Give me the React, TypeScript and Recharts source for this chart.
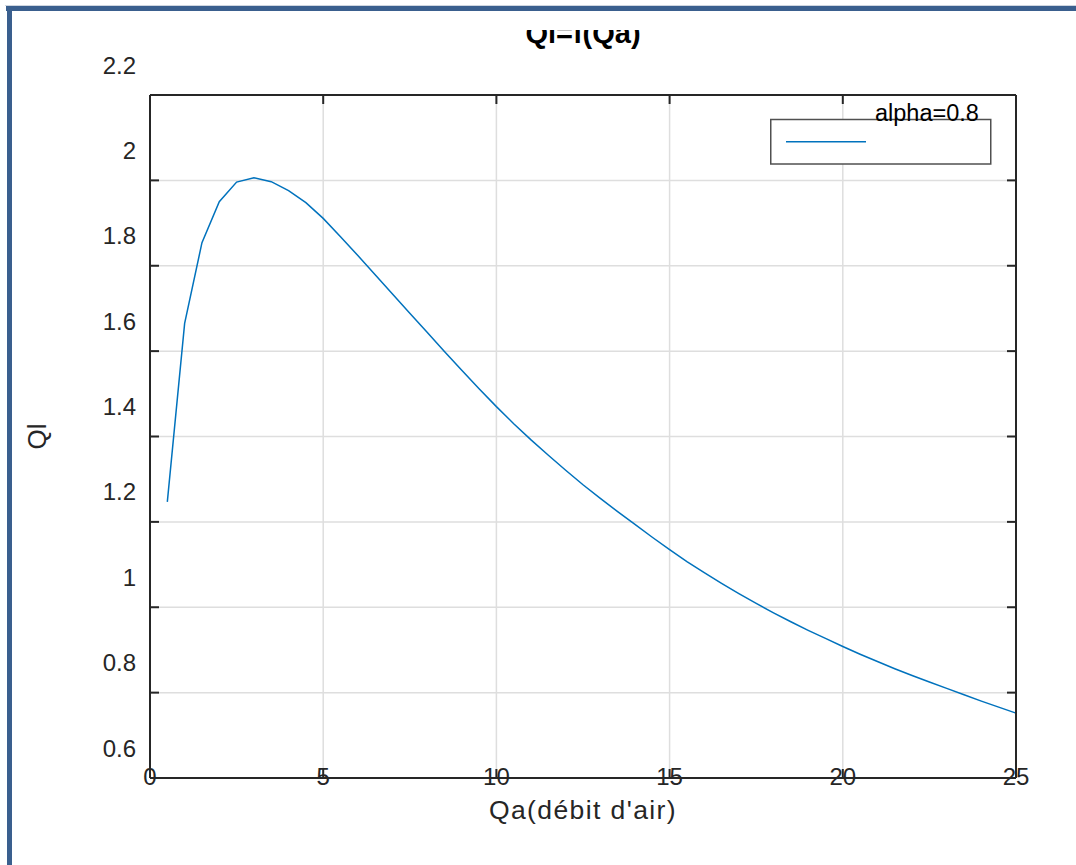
import React from "react";
import {
  LineChart,
  Line,
  XAxis,
  YAxis,
  CartesianGrid,
  Legend,
} from "recharts";

// Qa = 0.5 : 0.5 : 25
const qa = [
  0.5, 1, 1.5, 2, 2.5, 3, 3.5, 4, 4.5, 5, 5.5, 6, 6.5, 7, 7.5, 8, 8.5, 9, 9.5,
  10, 10.5, 11, 11.5, 12, 12.5, 13, 13.5, 14, 14.5, 15, 15.5, 16, 16.5, 17,
  17.5, 18, 18.5, 19, 19.5, 20, 20.5, 21, 21.5, 22, 22.5, 23, 23.5, 24, 24.5,
  25,
];
const ql = [
  1.247, 1.665, 1.854, 1.95, 1.996, 2.006, 1.997, 1.976, 1.948, 1.911, 1.868,
  1.824, 1.779, 1.734, 1.689, 1.644, 1.599, 1.555, 1.512, 1.47, 1.43, 1.392,
  1.356, 1.321, 1.287, 1.255, 1.224, 1.194, 1.164, 1.135, 1.107, 1.081, 1.056,
  1.032, 1.009, 0.987, 0.966, 0.946, 0.927, 0.908, 0.89, 0.873, 0.856, 0.84,
  0.825, 0.81, 0.795, 0.78, 0.766, 0.752,
];
const xTicks = [0, 5, 10, 15, 20, 25];
const yTicks = [0.6, 0.8, 1, 1.2, 1.4, 1.6, 1.8, 2, 2.2];
const seriesName = "alpha=0.8";

const W = 1076;
const H = 865;
const LEFT = 150;
const TOP = 95;
const RIGHT = 60;
const BOTTOM = 87;
const AXIS = "#262626";
const FONT = "'Liberation Sans', Arial, Helvetica, sans-serif";

const data = qa.map((x, i) => ({ qa: x, ql: ql[i] }));

// MATLAB-style inward ticks
const axisStyle = {
  tickSize: -9,
  tickMargin: 0,
  axisLine: { stroke: AXIS, strokeWidth: 2 },
  tickLine: { stroke: AXIS, strokeWidth: 2 },
};

function YTick(props: any) {
  const c = props.payload.coordinate;
  return (
    <text x={LEFT - 14} y={c - 21.5} textAnchor="end" fontSize={24} fill={AXIS} fontFamily={FONT}>
      {String(props.payload.value)}
    </text>
  );
}

function XTick(props: any) {
  const c = props.payload.coordinate;
  return (
    <text x={c} y={H - BOTTOM + 7} textAnchor="middle" fontSize={24} fill={AXIS} fontFamily={FONT}>
      {String(props.payload.value)}
    </text>
  );
}

// box axes (top/right): tick marks only, no labels
function NoLabel() {
  return <g />;
}

function LegendBox(props: any) {
  const item = (props.payload || []).find((p: any) => p.value === seriesName);
  return (
    <svg width={240} height={70} style={{ display: "block", overflow: "visible" }}>
      <rect x={0.75} y={19.5} width={220} height={44.5} fill="#fff" stroke="#505050" strokeWidth={1.5} />
      <line x1={16} x2={96} y1={41.7} y2={41.7} stroke={item ? item.color : "#0072BD"} strokeWidth={1.5} />
      <text x={105} y={21} fontSize={23.5} fill="#000" fontFamily={FONT}>
        {seriesName}
      </text>
    </svg>
  );
}

export default function App() {
  return (
    <div
      style={{
        position: "fixed",
        left: 0,
        top: 0,
        width: W,
        height: H,
        background: "#fff",
        overflow: "hidden",
        fontFamily: FONT,
      }}
    >
      {/* document frame */}
      <div style={{ position: "absolute", left: 5, top: 5, right: 0, height: 1, background: "#cfd6e0" }} />
      <div style={{ position: "absolute", left: 6, top: 6, right: 0, height: 5, background: "#3a5f8e" }} />
      <div style={{ position: "absolute", left: 7, top: 6, width: 5, bottom: 0, background: "#3a5f8e" }} />

      <LineChart
        width={W}
        height={H}
        data={data}
        margin={{ top: TOP - 1, right: RIGHT - 1, bottom: BOTTOM - 1, left: LEFT - 1 }}
        style={{ position: "absolute", left: 0, top: 0 }}
      >
        <CartesianGrid stroke="#dedede" strokeWidth={1.5} />
        <XAxis
          dataKey="qa"
          type="number"
          domain={[0, 25]}
          ticks={xTicks}
          height={1}
          tick={<XTick />}
          {...axisStyle}
          label={{
            content: (p: any) => (
              <text
                x={p.viewBox.x + p.viewBox.width / 2}
                y={H - BOTTOM + 41}
                textAnchor="middle"
                fontSize={26.5}
                letterSpacing={1.4}
                fill={AXIS}
                fontFamily={FONT}
              >
                Qa(débit d'air)
              </text>
            ),
          }}
        />
        <XAxis
          xAxisId="top"
          orientation="top"
          dataKey="qa"
          type="number"
          domain={[0, 25]}
          allowDataOverflow
          ticks={xTicks}
          height={1}
          tick={<NoLabel />}
          {...axisStyle}
        />
        <YAxis
          type="number"
          domain={[0.6, 2.2]}
          ticks={yTicks}
          width={1}
          tick={<YTick />}
          {...axisStyle}
          label={{
            content: (p: any) => {
              const cy = p.viewBox.y + p.viewBox.height / 2;
              return (
                <text
                  x={46}
                  y={cy}
                  transform={`rotate(-90 46 ${cy})`}
                  textAnchor="middle"
                  fontSize={26}
                  fill={AXIS}
                  fontFamily={FONT}
                >
                  Ql
                </text>
              );
            },
          }}
        />
        <YAxis
          yAxisId="right"
          orientation="right"
          type="number"
          domain={[0.6, 2.2]}
          allowDataOverflow
          ticks={yTicks}
          width={1}
          tick={<NoLabel />}
          {...axisStyle}
        />
        <Legend
          layout="horizontal"
          align="center"
          verticalAlign="middle"
          content={<LegendBox />}
          wrapperStyle={{ position: "absolute", left: 770, top: 100, width: 240, height: 70 }}
        />
        <Line
          type="linear"
          dataKey="ql"
          name={seriesName}
          stroke="#0072BD"
          strokeWidth={1.5}
          dot={false}
          activeDot={false}
          isAnimationActive={false}
        />
        {/* same series bound to the box axes, invisible, so their scales match */}
        <Line
          xAxisId="top"
          yAxisId="right"
          type="linear"
          dataKey="ql"
          name="box"
          stroke="none"
          legendType="none"
          dot={false}
          activeDot={false}
          isAnimationActive={false}
        />
      </LineChart>

      {/* title, clipped at the top like the reference */}
      <svg
        width={W}
        height={60}
        style={{ position: "absolute", left: 0, top: 0, pointerEvents: "none" }}
      >
        <defs>
          <clipPath id="titleClip">
            <rect x={0} y={30} width={W} height={30} />
          </clipPath>
        </defs>
        <text
          x={(LEFT + W - RIGHT) / 2}
          y={43}
          textAnchor="middle"
          fontSize={29}
          fontWeight="bold"
          fill="#000"
          fontFamily={FONT}
          clipPath="url(#titleClip)"
        >
          Ql=f(Qa)
        </text>
      </svg>
    </div>
  );
}
